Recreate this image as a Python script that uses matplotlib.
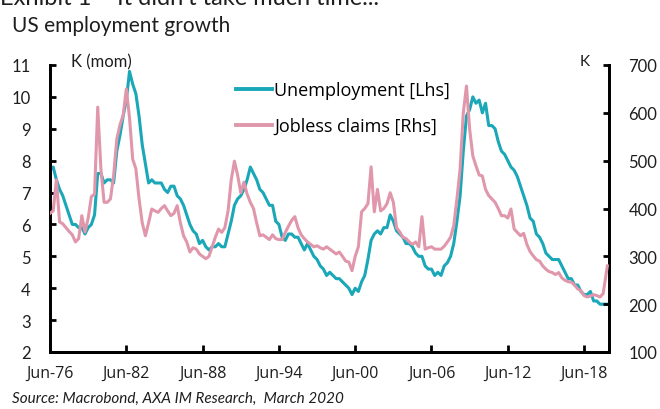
import numpy as np
import matplotlib
matplotlib.use("Agg")
import matplotlib.pyplot as plt
from matplotlib.lines import Line2D

plt.rcParams['font.family'] = ['Lato', 'DejaVu Sans']

# ---------------- data (quarterly readings, mid-1976 .. early 2020) ----------------
start_year = 1976.42
step = 0.25
end_date = 2020.25

unemployment = [
    7.7, 7.8,
    7.4, 7.1, 6.9, 6.6,   # 1977
    6.3, 6.0, 6.0, 5.9,   # 1978
    5.9, 5.7, 5.9, 6.0,   # 1979
    6.3, 7.6, 7.6, 7.3,   # 1980
    7.4, 7.4, 7.3, 8.3,   # 1981
    8.8, 9.4, 9.9, 10.8,  # 1982
    10.4, 10.1, 9.4, 8.5, # 1983
    7.9, 7.3, 7.4, 7.3,   # 1984
    7.3, 7.3, 7.1, 7.0,   # 1985
    7.2, 7.2, 6.9, 6.8,   # 1986
    6.6, 6.3, 6.0, 5.8,   # 1987
    5.7, 5.4, 5.5, 5.3,   # 1988
    5.2, 5.3, 5.3, 5.4,   # 1989
    5.3, 5.3, 5.7, 6.1,   # 1990
    6.6, 6.8, 6.9, 7.1,   # 1991
    7.4, 7.8, 7.6, 7.4,   # 1992
    7.1, 7.0, 6.8, 6.6,   # 1993
    6.6, 6.1, 6.0, 5.6,   # 1994
    5.5, 5.7, 5.7, 5.6,   # 1995
    5.6, 5.4, 5.2, 5.4,   # 1996
    5.2, 5.0, 4.9, 4.7,   # 1997
    4.6, 4.4, 4.5, 4.4,   # 1998
    4.3, 4.3, 4.2, 4.1,   # 1999
    4.0, 3.8, 4.0, 3.9,   # 2000
    4.2, 4.4, 4.9, 5.5,   # 2001
    5.7, 5.8, 5.7, 5.9,   # 2002
    5.9, 6.3, 6.1, 5.8,   # 2003
    5.7, 5.6, 5.4, 5.4,   # 2004
    5.3, 5.1, 5.0, 5.0,   # 2005
    4.7, 4.6, 4.6, 4.4,   # 2006
    4.5, 4.4, 4.7, 4.8,   # 2007
    5.0, 5.4, 6.1, 6.9,   # 2008
    8.3, 9.4, 9.6, 10.0,  # 2009
    9.8, 9.9, 9.5, 9.8,   # 2010
    9.1, 9.1, 9.0, 8.6,   # 2011
    8.3, 8.2, 8.0, 7.8,   # 2012
    7.7, 7.5, 7.2, 6.9,   # 2013
    6.6, 6.2, 6.1, 5.7,   # 2014
    5.6, 5.4, 5.1, 5.0,   # 2015
    4.9, 4.9, 4.9, 4.7,   # 2016
    4.5, 4.3, 4.3, 4.1,   # 2017
    4.1, 3.9, 3.8, 3.8,   # 2018
    3.9, 3.6, 3.6, 3.5,   # 2019
    3.5,                  # 2020 Q1
    3.5,                  # last reading
]

jobless_claims = [
    390, 395,
    460, 372, 368, 360,   # 1977
    352, 345, 330, 337,   # 1978
    385, 351, 380, 425,   # 1979
    430, 612, 483, 413,   # 1980
    413, 420, 469, 545,   # 1981
    575, 595, 650, 590,   # 1982
    503, 483, 420, 370,   # 1983
    343, 370, 399, 395,   # 1984
    392, 400, 406, 395,   # 1985
    385, 390, 406, 370,   # 1986
    343, 330, 309, 318,   # 1987
    315, 305, 300, 295,   # 1988
    300, 320, 340, 357,   # 1989
    350, 360, 395, 460,   # 1990
    499, 470, 433, 455,   # 1991
    430, 413, 400, 370,   # 1992
    343, 345, 340, 335,   # 1993
    345, 337, 335, 335,   # 1994
    350, 363, 375, 383,   # 1995
    360, 345, 337, 330,   # 1996
    325, 320, 322, 318,   # 1997
    315, 320, 315, 310,   # 1998
    305, 309, 300, 290,   # 1999
    288, 270, 300, 320,   # 2000
    393, 400, 410, 487,   # 2001
    393, 440, 395, 400,   # 2002
    410, 433, 413, 360,   # 2003
    351, 340, 337, 330,   # 2004
    325, 330, 320, 383,   # 2005
    315, 318, 320, 315,   # 2006
    315, 315, 321, 330,   # 2007
    340, 364, 420, 483,   # 2008
    600, 656, 566, 510,   # 2009
    489, 470, 468, 440,   # 2010
    427, 420, 413, 400,   # 2011
    385, 385, 380, 399,   # 2012
    357, 350, 343, 348,   # 2013
    325, 310, 301, 293,   # 2014
    290, 280, 273, 268,   # 2015
    266, 262, 266, 255,   # 2016
    250, 247, 246, 240,   # 2017
    232, 228, 218, 215,   # 2018
    217, 220, 218, 215,   # 2019
    222,                  # 2020 Q1
    280,                  # last reading
]

tick_years = [1976, 1982, 1988, 1994, 2000, 2006, 2012, 2018]
tick_labels = ['Jun-76', 'Jun-82', 'Jun-88', 'Jun-94', 'Jun-00', 'Jun-06', 'Jun-12', 'Jun-18']
left_ticks = [2, 3, 4, 5, 6, 7, 8, 9, 10, 11]
right_ticks = [100, 200, 300, 400, 500, 600, 700]

# ---------------- dates ----------------
n_q = len(unemployment) - 1
dates = list(start_year + step * np.arange(n_q)) + [end_date]

# ---------------- plot ----------------
teal = '#1aa7b8'
pink = '#e197ab'
txt = '#1e1e1e'

W, H = 660, 410
fig = plt.figure(figsize=(W / 100, H / 100), dpi=100)
ax = fig.add_axes([50 / W, 1 - 353 / H, (609 - 50) / W, (353 - 66) / H])
ax2 = ax.twinx()

ax.plot(dates, unemployment, color=teal, lw=2.2, solid_joinstyle='round', zorder=2)
ax2.plot(dates, jobless_claims, color=pink, lw=2.2, solid_joinstyle='round', zorder=3)

ax.set_xlim(1976.417, 2020.38)
ax.set_ylim(2, 11)
ax2.set_ylim(100, 700)

ax.set_xticks([y + 5 / 12 for y in tick_years])
ax.set_xticklabels(tick_labels)
ax.set_yticks(left_ticks)
ax2.set_yticks(right_ticks)

for a in (ax, ax2):
    a.spines['top'].set_visible(False)
    for s in ('left', 'right', 'bottom'):
        a.spines[s].set_linewidth(2.0)
        a.spines[s].set_color('black')
    a.patch.set_visible(False)

fs = 12
ax.tick_params(axis='x', direction='in', length=5, width=2, labelsize=fs, pad=9)
ax.tick_params(axis='y', direction='in', length=4, width=2, labelsize=fs, pad=14)
ax2.tick_params(axis='y', direction='in', length=4, width=2, labelsize=fs, pad=14)
for lab in ax.get_xticklabels() + ax.get_yticklabels() + ax2.get_yticklabels():
    lab.set_color(txt)
for lab in ax.get_xticklabels():
    lab.set_family(['Open Sans', 'DejaVu Sans'])
    lab.set_fontsize(11.5)

# unit labels
fig.text(71 / W, 1 - 62 / H, 'K (mom)', fontsize=12, ha='left', va='center', color=txt)
fig.text(585 / W, 1 - 62 / H, 'K', fontsize=11, ha='center', va='center', color=txt)

# titles and source
fig.text(0 / W, 1 - 5 / H, "Exhibit 1 \u2013 It didn't take much time...", fontsize=17,
         ha='left', va='baseline', color=txt)
fig.text(12 / W, 1 - 26 / H, 'US employment growth', fontsize=15, ha='left', va='center',
         color=txt)
fig.text(12 / W, 1 - 399 / H, 'Source: Macrobond, AXA IM Research,  March 2020', fontsize=11,
         style='italic', ha='left', va='center', color=txt)

# legend
handles = [Line2D([], [], color=teal, lw=2.8), Line2D([], [], color=pink, lw=2.8)]
fig.legend(handles, ['Unemployment [Lhs]', 'Jobless claims [Rhs]'], loc='center left',
           bbox_to_anchor=(236 / W, 1 - 109 / H), frameon=False,
           prop={'family': ['Open Sans', 'DejaVu Sans'], 'size': 13},
           handlelength=2.0, handletextpad=0.1, labelspacing=1.0, borderpad=0,
           borderaxespad=0)

fig.savefig('out.png', dpi=100)
